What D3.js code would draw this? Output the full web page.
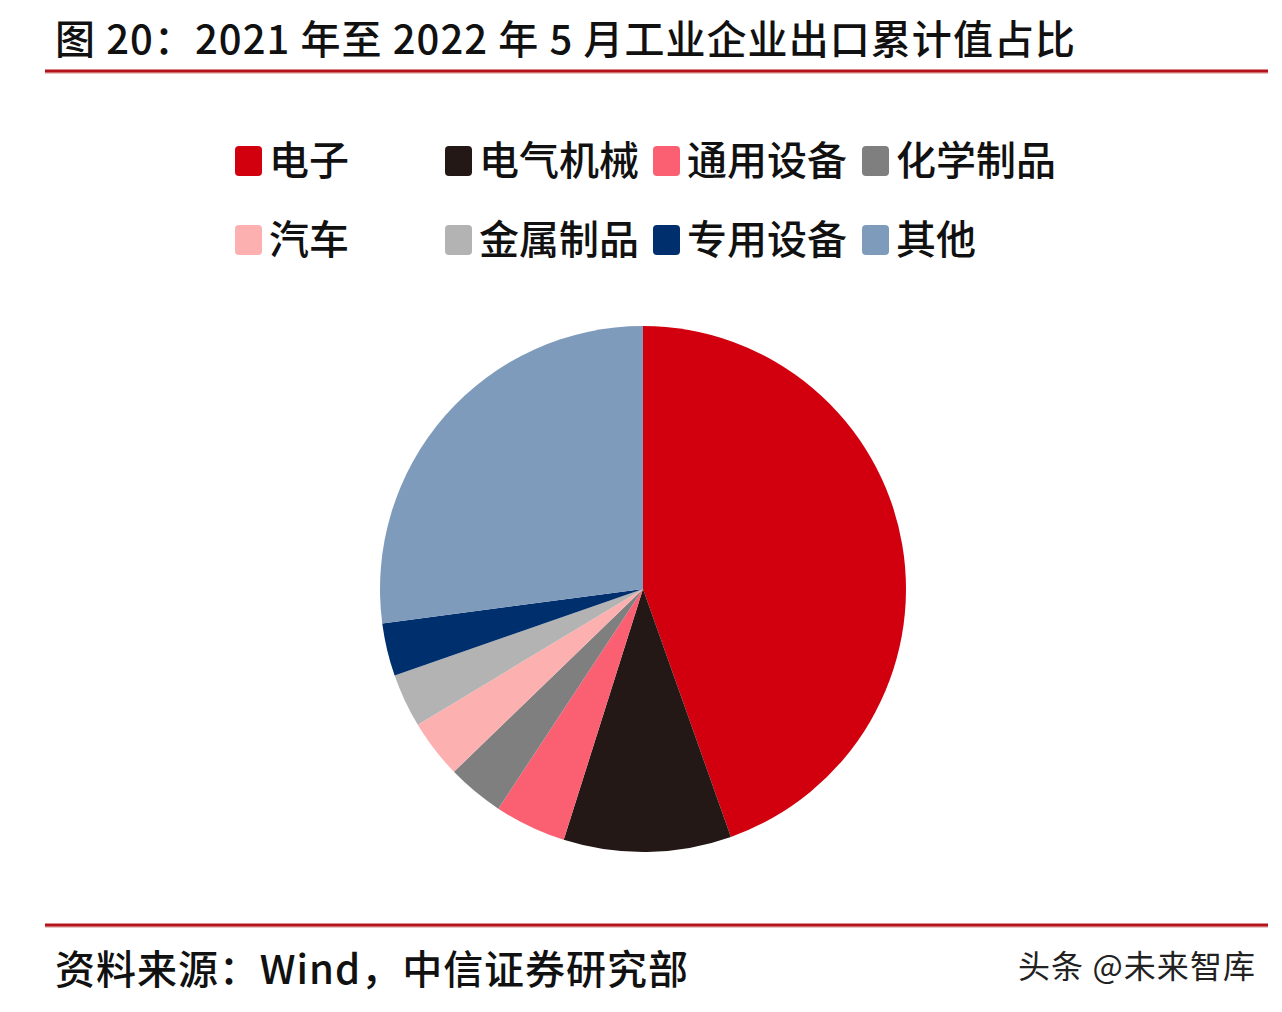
<!DOCTYPE html>
<html>
<head>
<meta charset="utf-8">
<script src="https://cdn.jsdelivr.net/npm/d3@7/dist/d3.min.js"></script>
<style>
  html, body { margin: 0; padding: 0; background: #fff; }
  svg { display: block; }
  text { font-family: "Noto Sans CJK SC", "Noto Sans", sans-serif; fill: #111; font-weight: 500; }
</style>
</head>
<body>
<div id="chart"></div>
<script>
// ── Data ──────────────────────────────────────────────────────
const TITLE    = "图 20：2021 年至 2022 年 5 月工业企业出口累计值占比";
const SOURCE   = "资料来源：Wind，中信证券研究部";
const WATERMARK = "头条 @未来智库";

const categories = ["电子", "电气机械", "通用设备", "化学制品", "汽车", "金属制品", "专用设备", "其他"];
const shares     = [44.6, 10.3, 4.4, 3.5, 3.6, 3.3, 3.25, 27.1];   // %
const colors     = ["#d2000f", "#231815", "#fa5f72", "#7f7f7f", "#fdb0b0", "#b3b3b3", "#002f6e", "#7f9bbb"];

// ── Layout ───────────────────────────────────────────────────
const W = 1282, H = 1012;
const PIE = { cx: 643, cy: 589, r: 263 };
const LEGEND = { colX: [235, 445, 653, 862], rowY: [161, 240], sw: 27, sh: 30, gap: 7, font: 40 };

const svg = d3.select("#chart").append("svg")
  .attr("width", W).attr("height", H);

svg.append("rect").attr("width", W).attr("height", H).attr("fill", "#fff");

// ── Title + rules ────────────────────────────────────────────
svg.append("text")
  .attr("x", 55).attr("y", 54)
  .attr("font-size", 40)
  .attr("textLength", 1020).attr("lengthAdjust", "spacing")
  .text(TITLE);

[71, 925].forEach(y => {
  svg.append("line")
    .attr("x1", 45).attr("x2", 1268).attr("y1", y + 1.5).attr("y2", y + 1.5)
    .attr("stroke", "#e8c4c4").attr("stroke-width", 3);
  svg.append("line")
    .attr("x1", 45).attr("x2", 1268).attr("y1", y).attr("y2", y)
    .attr("stroke", "#b5121b").attr("stroke-width", 3);
});

// ── Legend ───────────────────────────────────────────────────
const legendG = svg.append("g");
categories.forEach((c, i) => {
  const x = LEGEND.colX[i % 4];
  const y = LEGEND.rowY[Math.floor(i / 4)];
  legendG.append("rect")
    .attr("x", x).attr("y", y - LEGEND.sh / 2)
    .attr("width", LEGEND.sw).attr("height", LEGEND.sh)
    .attr("rx", 4).attr("fill", colors[i]);
  legendG.append("text")
    .attr("x", x + LEGEND.sw + LEGEND.gap).attr("y", y)
    .attr("dy", "0.36em")
    .attr("font-size", LEGEND.font)
    .text(c);
});

// ── Pie ──────────────────────────────────────────────────────
const pie = d3.pie().sort(null).value(d => d)
  .startAngle(0).endAngle(2 * Math.PI);
const arc = d3.arc().innerRadius(0).outerRadius(PIE.r);

svg.append("g")
  .attr("transform", `translate(${PIE.cx},${PIE.cy})`)
  .selectAll("path")
  .data(pie(shares))
  .join("path")
  .attr("d", arc)
  .attr("fill", (d, i) => colors[i]);

// ── Footer ───────────────────────────────────────────────────
svg.append("text")
  .attr("x", 55).attr("y", 984)
  .attr("font-size", 40)
  .attr("textLength", 633).attr("lengthAdjust", "spacing")
  .text(SOURCE);

svg.append("text")
  .attr("x", 1018).attr("y", 978)
  .attr("font-size", 32)
  .attr("textLength", 237).attr("lengthAdjust", "spacing")
  .style("font-weight", 400)
  .style("fill", "#222")
  .text(WATERMARK);
</script>
</body>
</html>
